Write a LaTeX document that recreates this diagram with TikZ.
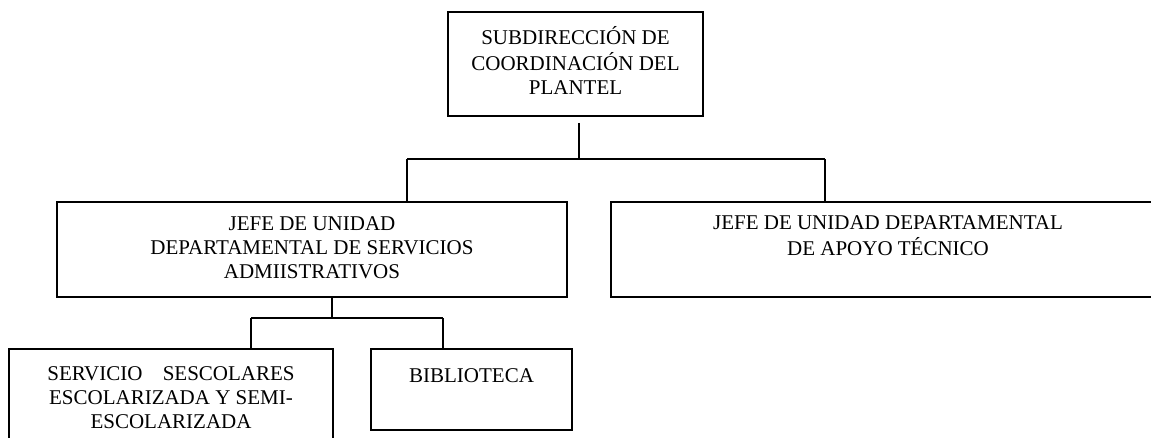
\documentclass[tikz,border=0pt]{standalone}
\usepackage{fontspec}
\setmainfont{Liberation Serif}
\begin{document}
\begin{tikzpicture}[x=1pt,y=-1pt,
  box/.style={draw, line width=1.6pt, align=center, inner sep=0pt, font=\fontsize{21}{24}\selectfont},
  link/.style={line width=1.6pt}]
\useasboundingbox (0,0) rectangle (1151,437);
\clip (0,0) rectangle (1151,437);
\node[box, minimum width=255pt, minimum height=104pt] (top) at (575.5,64)
  {\strut SUBDIRECCIÓN DE\\COORDINACIÓN DEL\\PLANTEL\strut};
\node[box, minimum width=510pt, minimum height=95pt] (adm) at (312,249.5)
  {\strut JEFE DE UNIDAD\\DEPARTAMENTAL DE SERVICIOS\\ADMIISTRATIVOS\strut};
\node[box, minimum width=554pt, minimum height=95pt] (tec) at (888,249.5)
  {\strut JEFE DE UNIDAD DEPARTAMENTAL\\DE APOYO TÉCNICO\\\strut};
\node[box, minimum width=324pt, minimum height=100.4pt] (serv) at (171,399.2)
  {\strut SERVICIO\hspace{15pt} SESCOLARES\\ESCOLARIZADA Y SEMI-\\ESCOLARIZADA\strut};
\node[box, minimum width=201pt, minimum height=81pt] (bib) at (471.5,389.5)
  {\strut BIBLIOTECA\\\strut};
\coordinate (j0) at (579,159);
\coordinate (jl) at (407,159);
\coordinate (jr) at (825,159);
\coordinate (b0) at (332,318);
\coordinate (bl) at (251,318);
\coordinate (br) at (443,318);
\draw[link] ([yshift=-6pt]top.south -| j0) -- (j0);
\draw[link] (jl) -- (jr);
\draw[link] (jl) -- (jl |- adm.north);
\draw[link] (jr) -- (jr |- tec.north);
\draw[link] (b0 |- adm.south) -- (b0);
\draw[link] (bl) -- (br);
\draw[link] (bl) -- (bl |- serv.north);
\draw[link] (br) -- (br |- bib.north);
\end{tikzpicture}
\end{document}
